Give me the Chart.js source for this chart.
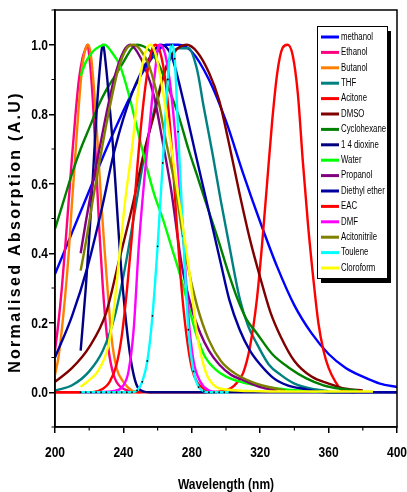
<!DOCTYPE html>
<html>
<head>
<meta charset="utf-8">
<script src="https://cdn.jsdelivr.net/npm/chart.js@4.4.0/dist/chart.umd.min.js"></script>
<style>
  html, body { margin: 0; padding: 0; background: #fff; }
</style>
</head>
<body>
<canvas id="chart" width="407" height="492"></canvas>
<script>
// solvent names and colours, in legend order
const solvents = ['methanol', 'Ethanol', 'Butanol', 'THF', 'Acitone', 'DMSO', 'Cyclohexane', '1 4 dioxine',
  'Water', 'Propanol', 'Diethyl ether', 'EAC', 'DMF', 'Acitonitrile', 'Toulene', 'Cloroform'];
const lineColors = ['#0000ff', '#ff0080', '#ff8000', '#008080', '#ff0000', '#800000', '#008000', '#000080',
  '#00ff00', '#800080', '#0000a0', '#ff0000', '#ff00ff', '#808000', '#00ffff', '#ffff00'];

// wavelength (nm) / normalised absorption
const methanolX = [200, 210, 220, 230, 240, 250, 258, 265, 272, 280, 290, 300, 310, 320, 330, 340, 350, 360, 370, 380, 390, 400];
const methanolY = [0.34, 0.46, 0.58, 0.70, 0.81, 0.91, 0.97, 1.0, 1.0, 0.98, 0.90, 0.78, 0.63, 0.49, 0.36, 0.25, 0.17, 0.11, 0.07, 0.045, 0.025, 0.015];

const ethanolX = [200, 202, 204, 206, 208, 210, 212, 214, 216, 218, 219, 220, 222, 224, 226, 228, 230, 232, 235, 240, 250];
const ethanolY = [0.12, 0.2, 0.3, 0.42, 0.55, 0.68, 0.8, 0.9, 0.96, 0.99, 1.0, 0.97, 0.85, 0.66, 0.46, 0.3, 0.18, 0.1, 0.04, 0.01, 0];

const butanolX = [200, 202, 204, 206, 208, 210, 212, 214, 216, 218, 219.5, 221, 223, 225, 227, 229, 231, 233, 236, 240, 245, 250];
const butanolY = [0.05, 0.1, 0.18, 0.28, 0.4, 0.55, 0.69, 0.83, 0.94, 0.99, 1.0, 0.97, 0.86, 0.71, 0.55, 0.41, 0.28, 0.16, 0.07, 0.03, 0.005, 0];

const thfX = [200, 210, 220, 228, 235, 241, 247, 253, 260, 266, 272, 278, 283, 287, 292, 297, 302, 308, 313, 318, 325, 332, 340, 350, 360];
const thfY = [0.005, 0.02, 0.06, 0.12, 0.22, 0.36, 0.53, 0.70, 0.85, 0.95, 0.99, 0.99, 0.93, 0.82, 0.69, 0.55, 0.42, 0.27, 0.19, 0.14, 0.08, 0.05, 0.025, 0.01, 0.003];

const acitoneX = [200, 230, 260, 290, 300, 305, 310, 314, 318, 321, 324, 327, 330, 333, 336, 339, 342, 345, 348, 351, 354, 357, 360, 364, 368, 375];
const acitoneY = [0, 0, 0, 0, 0.005, 0.02, 0.055, 0.13, 0.265, 0.42, 0.6, 0.78, 0.92, 0.99, 1.0, 0.97, 0.86, 0.66, 0.48, 0.33, 0.2, 0.12, 0.07, 0.03, 0.005, 0];

const dmsoX = [200, 210, 220, 230, 237, 245, 252, 258, 264, 270, 277, 283, 290, 296, 302, 308, 314, 320, 326, 332, 340, 350, 360, 370, 380];
const dmsoY = [0.03, 0.07, 0.13, 0.23, 0.37, 0.53, 0.69, 0.8, 0.92, 0.98, 1.0, 0.98, 0.92, 0.84, 0.71, 0.57, 0.44, 0.33, 0.23, 0.16, 0.09, 0.045, 0.025, 0.01, 0.005];

const cyclohexaneX = [200, 205, 210, 215, 220, 225, 230, 235, 240, 245, 248, 252, 256, 260, 266, 272, 278, 284, 290, 296, 301, 307, 312, 318, 327, 337, 347, 357, 367, 377];
const cyclohexaneY = [0.47, 0.55, 0.63, 0.70, 0.76, 0.82, 0.87, 0.91, 0.95, 0.99, 1.0, 0.995, 0.98, 0.95, 0.88, 0.80, 0.70, 0.61, 0.52, 0.43, 0.35, 0.265, 0.21, 0.17, 0.11, 0.07, 0.04, 0.02, 0.01, 0.005];

const dioxineX = [215, 218, 221, 224, 226, 228, 230, 232, 234, 236, 238, 240, 243, 246, 249, 255, 270, 300, 340, 400];
const dioxineY = [0.12, 0.3, 0.52, 0.78, 0.92, 1.0, 0.93, 0.82, 0.7, 0.55, 0.4, 0.28, 0.14, 0.05, 0.01, 0, 0, 0, 0, 0];

const waterX = [215, 218, 222, 226, 229, 233, 238, 243, 248, 253, 258, 263, 268, 273, 278, 283, 288, 294, 300, 310, 320, 335, 350, 365];
const waterY = [0.91, 0.95, 0.98, 0.995, 1.0, 0.98, 0.94, 0.86, 0.76, 0.66, 0.57, 0.5, 0.42, 0.34, 0.25, 0.16, 0.1, 0.065, 0.045, 0.028, 0.018, 0.008, 0.003, 0];

const propanolX = [215, 218, 222, 226, 230, 235, 240, 244, 248, 253, 258, 263, 268, 274, 280, 285, 290, 296, 303, 310, 320, 330];
const propanolY = [0.4, 0.49, 0.6, 0.7, 0.8, 0.91, 0.98, 1.0, 0.98, 0.93, 0.85, 0.72, 0.58, 0.37, 0.24, 0.17, 0.12, 0.08, 0.05, 0.035, 0.015, 0.005];

const diethylX = [200, 210, 219, 227, 235, 245, 255, 262, 268, 275, 282, 290, 297, 302, 308, 314, 320, 328, 336, 345, 360, 400];
const diethylY = [0.1, 0.22, 0.36, 0.52, 0.7, 0.86, 0.96, 1.0, 0.97, 0.84, 0.69, 0.52, 0.37, 0.265, 0.18, 0.12, 0.08, 0.04, 0.02, 0.01, 0, 0];

const eacX = [200, 210, 222, 228, 232, 236, 239, 242, 245, 248, 251, 254, 257, 259, 262, 265, 268, 271, 274, 277, 280, 283, 287, 292];
const eacY = [0, 0, 0, 0.01, 0.03, 0.08, 0.16, 0.29, 0.45, 0.64, 0.8, 0.92, 0.99, 1.0, 0.97, 0.88, 0.72, 0.5, 0.3, 0.16, 0.07, 0.03, 0.01, 0];

const dmfX = [215, 225, 236, 240, 243, 246, 249, 252, 255, 258, 261, 264, 267, 270, 273, 275, 278, 281, 285, 290, 295];
const dmfY = [0, 0, 0.005, 0.02, 0.06, 0.18, 0.42, 0.6, 0.75, 0.9, 1.0, 0.98, 0.9, 0.76, 0.58, 0.45, 0.22, 0.09, 0.03, 0.005, 0];

const acitonitrileX = [215, 218, 222, 227, 232, 237, 242, 246, 250, 255, 260, 265, 270, 277, 283, 290, 297, 305, 315, 325, 335];
const acitonitrileY = [0.35, 0.43, 0.55, 0.69, 0.82, 0.93, 0.99, 1.0, 0.985, 0.94, 0.85, 0.72, 0.6, 0.38, 0.25, 0.15, 0.09, 0.055, 0.03, 0.015, 0.005];

const touleneX = [215, 218, 221, 224, 227, 230, 233, 236, 239, 242, 245, 248, 251, 254, 257, 260, 263, 266, 268, 270, 272, 275, 278, 281, 284, 287, 290, 293, 296, 299, 302];
const touleneY = [0, 0, 0, 0, 0, 0, 0, 0, 0, 0, 0, 0.005, 0.03, 0.09, 0.22, 0.42, 0.66, 0.9, 1.0, 0.96, 0.75, 0.45, 0.18, 0.06, 0.015, 0.003, 0, 0, 0, 0, 0];

const cloroformX = [215, 220, 225, 231, 234, 237, 241, 245, 249, 253, 256, 259, 263, 267, 271, 275, 279, 283, 288, 293, 300, 320, 350, 386];
const cloroformY = [0.015, 0.035, 0.06, 0.13, 0.22, 0.36, 0.55, 0.7, 0.88, 0.98, 1.0, 0.97, 0.87, 0.74, 0.6, 0.47, 0.33, 0.17, 0.06, 0.02, 0.008, 0.003, 0.002, 0.002];

const seriesX = [methanolX, ethanolX, butanolX, thfX, acitoneX, dmsoX, cyclohexaneX, dioxineX,
  waterX, propanolX, diethylX, eacX, dmfX, acitonitrileX, touleneX, cloroformX];
const seriesY = [methanolY, ethanolY, butanolY, thfY, acitoneY, dmsoY, cyclohexaneY, dioxineY,
  waterY, propanolY, diethylY, eacY, dmfY, acitonitrileY, touleneY, cloroformY];

const xTicks = [200, 240, 280, 320, 360, 400];
const xMinor = [220, 260, 300, 340, 380];
const yTicks = [0, 0.2, 0.4, 0.6, 0.8, 1.0];
const yMinor = [-0.1, 0.1, 0.3, 0.5, 0.7, 0.9, 1.1];

const sans = "'Liberation Sans', Arial, sans-serif";

const datasets = solvents.map((name, i) => ({
    label: name,
    data: seriesX[i].map((x, j) => ({ x: x, y: seriesY[i][j] })),
    borderColor: lineColors[i],
    backgroundColor: lineColors[i],
    borderWidth: 2.4,
    fill: false,
    cubicInterpolationMode: 'monotone',
    pointRadius: name === 'Toulene' ? 0.9 : 0,
    pointBackgroundColor: '#000',
    pointBorderWidth: 0,
    order: solvents.length - i   // later series drawn on top
}));

// the picture uses a squeezed (narrow) face, so text gets a horizontal scale
function narrowText(ctx, text, x, y, sx) {
    ctx.save();
    ctx.translate(x, y);
    ctx.scale(sx, 1);
    ctx.fillText(text, 0, 0);
    ctx.restore();
}

const framePlugin = {
    id: 'frame',
    afterDraw(chart) {
        const { ctx, chartArea: a, scales } = chart;
        const x = scales.x, y = scales.y;
        ctx.save();

        // box around plot
        ctx.strokeStyle = '#000';
        ctx.lineWidth = 1.5;
        ctx.strokeRect(a.left, a.top, a.right - a.left, a.bottom - a.top);

        // minor ticks
        ctx.lineWidth = 1.2;
        ctx.beginPath();
        xMinor.forEach(v => {
            const px = x.getPixelForValue(v);
            ctx.moveTo(px, a.bottom);
            ctx.lineTo(px, a.bottom + 3.5);
        });
        yMinor.forEach(v => {
            const py = y.getPixelForValue(v);
            ctx.moveTo(a.left, py);
            ctx.lineTo(a.left - 3.5, py);
        });
        ctx.stroke();

        // tick labels
        ctx.fillStyle = '#000';
        ctx.font = 'bold 15px ' + sans;
        ctx.textAlign = 'center';
        ctx.textBaseline = 'alphabetic';
        xTicks.forEach(v => narrowText(ctx, String(v), x.getPixelForValue(v), a.bottom + 30, 0.8));
        ctx.textAlign = 'right';
        ctx.textBaseline = 'middle';
        yTicks.forEach(v => narrowText(ctx, v.toFixed(1), a.left - 7, y.getPixelForValue(v) + 1, 0.8));

        // axis titles
        ctx.textAlign = 'center';
        ctx.font = 'bold 16px ' + sans;
        ctx.letterSpacing = '2.3px';
        ctx.save();
        ctx.translate(16, 232);
        ctx.rotate(-Math.PI / 2);
        ctx.fillText('Normalised Absorption (A.U)', 0, 0);
        ctx.restore();

        ctx.letterSpacing = '0px';
        ctx.font = 'bold 15px ' + sans;
        ctx.textBaseline = 'alphabetic';
        narrowText(ctx, 'Wavelength (nm)', (a.left + a.right) / 2, 489, 0.8);

        // legend with drop shadow
        const lx = 317, ly = 26, lw = 70, lh = 252;
        ctx.fillStyle = '#000';
        ctx.fillRect(lx + 4, ly + 5, lw, lh);
        ctx.fillStyle = '#fff';
        ctx.fillRect(lx, ly, lw, lh);
        ctx.lineWidth = 1;
        ctx.strokeStyle = '#000';
        ctx.strokeRect(lx + 0.5, ly + 0.5, lw, lh);

        ctx.font = '10px ' + sans;
        ctx.textAlign = 'left';
        ctx.textBaseline = 'middle';
        chart.data.datasets.forEach((ds, i) => {
            const cy = ly + 11 + i * 15.4;
            ctx.strokeStyle = ds.borderColor;
            ctx.lineWidth = 3;
            ctx.beginPath();
            ctx.moveTo(lx + 4, cy);
            ctx.lineTo(lx + 22, cy);
            ctx.stroke();
            ctx.fillStyle = '#000';
            narrowText(ctx, ds.label, lx + 24, cy, 0.78);
        });

        ctx.restore();
    }
};

new Chart(document.getElementById('chart'), {
    type: 'line',
    data: { datasets: datasets },
    options: {
        responsive: false,
        animation: false,
        layout: { padding: { left: 0, right: 10, top: 10, bottom: 0 } },
        plugins: { legend: { display: false }, tooltip: { enabled: false } },
        scales: {
            x: {
                type: 'linear',
                min: 200,
                max: 400,
                afterBuildTicks: s => { s.ticks = xTicks.map(v => ({ value: v })); },
                afterFit: s => { s.height = 65; },
                grid: { drawOnChartArea: false, drawTicks: true, tickLength: 6, color: '#000', lineWidth: 1.5 },
                border: { display: true, color: '#000', width: 1.5 },
                ticks: { display: false }
            },
            y: {
                type: 'linear',
                min: -0.1,
                max: 1.1,
                afterBuildTicks: s => { s.ticks = yTicks.map(v => ({ value: v })); },
                afterFit: s => { s.width = 55; },
                grid: { drawOnChartArea: false, drawTicks: true, tickLength: 6, color: '#000', lineWidth: 1.5 },
                border: { display: true, color: '#000', width: 1.5 },
                ticks: { display: false }
            }
        }
    },
    plugins: [framePlugin]
});
</script>
</body>
</html>
